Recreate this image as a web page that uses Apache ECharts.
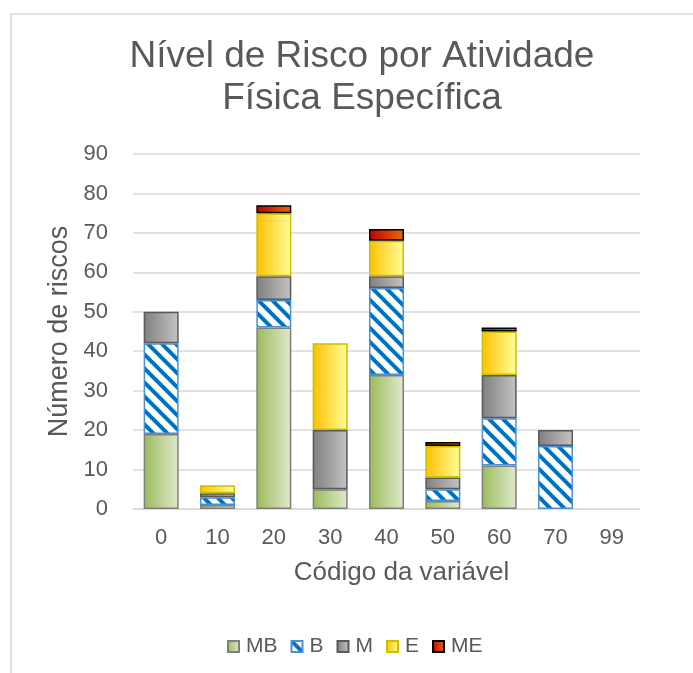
<!DOCTYPE html>
<html>
<head>
<meta charset="utf-8">
<script src="https://cdn.jsdelivr.net/npm/echarts@6/dist/echarts.min.js"></script>
<style>
  html, body { margin: 0; padding: 0; background: #fff; }
  #main { width: 693px; height: 673px; }
</style>
</head>
<body>
<div id="main"></div>
<script>
// dados
var categorias = ['0', '10', '20', '30', '40', '50', '60', '70', '99'];
var serieMB = [19, 1, 46, 5, 34, 2, 11, 0, 0];
var serieB  = [23, 2, 7, 0, 22, 3, 12, 16, 0];
var serieM  = [8, 1, 6, 15, 3, 3, 11, 4, 0];
var serieE  = [0, 2, 16, 22, 9, 8, 11, 0, 0];
var serieME = [0, 0, 2, 0, 3, 1, 1, 0, 0];
var ticksY = [0, 10, 20, 30, 40, 50, 60, 70, 80, 90];

var txt = '#595959';
var fonte = '"Liberation Sans", Arial, sans-serif';

// padrão listrado para a série B
function listras() {
    var s = 14;
    var c = document.createElement('canvas');
    c.width = s; c.height = s;
    var ctx = c.getContext('2d');
    ctx.fillStyle = '#fff';
    ctx.fillRect(0, 0, s, s);
    ctx.strokeStyle = '#0070c0';
    ctx.lineWidth = 4;
    ctx.beginPath();
    ctx.moveTo(-s, -s); ctx.lineTo(2 * s, 2 * s);
    ctx.moveTo(-s, 0); ctx.lineTo(s, 2 * s);
    ctx.moveTo(0, -s); ctx.lineTo(2 * s, s);
    ctx.stroke();
    return c;
}

function grad(a, b) {
    return new echarts.graphic.LinearGradient(0, 0, 1, 0, [
        {offset: 0, color: a}, {offset: 1, color: b}
    ]);
}

function zeroNull(arr) {
    return arr.map(function (v) { return v === 0 ? null : v; });
}

var myChart = echarts.init(document.getElementById('main'));

var option = {
    backgroundColor: '#fff',
    animation: false,
    graphic: [{
        type: 'rect',
        shape: {x: 11, y: 14, width: 800, height: 800},
        style: {fill: 'none', stroke: '#d9d9d9', lineWidth: 1.5},
        silent: true
    }],
    title: {
        text: 'Nível de Risco por Atividade\nFísica Específica',
        left: 357,
        top: 31,
        textAlign: 'center',
        textStyle: {
            fontFamily: fonte, fontSize: 37, fontWeight: 'normal',
            color: txt, lineHeight: 42
        }
    },
    legend: {
        left: 222,
        top: 631,
        itemWidth: 11,
        itemHeight: 11,
        itemGap: 13,
        icon: 'rect',
        textStyle: {fontFamily: fonte, fontSize: 21, color: txt, padding: [0, 0, 0, 2]},
        data: ['MB', 'B', 'M', 'E', 'ME']
    },
    grid: {left: 133, right: 53, top: 154, bottom: 164},
    xAxis: {
        type: 'category',
        data: categorias,
        name: 'Código da variável',
        nameLocation: 'middle',
        nameGap: 51,
        nameTextStyle: {fontFamily: fonte, fontSize: 26, color: txt, padding: [0, 0, 0, 30]},
        axisLine: {lineStyle: {color: '#d9d9d9', width: 1.5}},
        axisTick: {show: false},
        axisLabel: {fontFamily: fonte, fontSize: 22, color: txt, margin: 18}
    },
    yAxis: {
        type: 'value',
        min: ticksY[0],
        max: ticksY[ticksY.length - 1],
        interval: 10,
        name: 'Número de riscos',
        nameLocation: 'middle',
        nameGap: 58,
        nameTextStyle: {fontFamily: fonte, fontSize: 27, color: txt},
        axisLine: {show: false},
        axisTick: {show: false},
        axisLabel: {fontFamily: fonte, fontSize: 22, color: txt, margin: 25},
        splitLine: {lineStyle: {color: '#d9d9d9', width: 1.5}}
    },
    series: [{
        name: 'MB', type: 'bar', stack: 'r', barWidth: 35,
        data: zeroNull(serieMB),
        itemStyle: {color: grad('#9bbb59', '#e0e9cf'), borderColor: '#7f7f7f', borderWidth: 1.5}
    }, {
        name: 'B', type: 'bar', stack: 'r', barWidth: 35,
        data: zeroNull(serieB),
        itemStyle: {color: {image: listras(), repeat: 'repeat'}, borderColor: '#4a90d9', borderWidth: 1.5}
    }, {
        name: 'M', type: 'bar', stack: 'r', barWidth: 35,
        data: zeroNull(serieM),
        itemStyle: {color: grad('#7f7f7f', '#c4c4c4'), borderColor: '#595959', borderWidth: 1.5}
    }, {
        name: 'E', type: 'bar', stack: 'r', barWidth: 35,
        data: zeroNull(serieE),
        itemStyle: {color: grad('#ffc000', '#ffff99'), borderColor: '#c8c000', borderWidth: 1.5}
    }, {
        name: 'ME', type: 'bar', stack: 'r', barWidth: 35,
        data: zeroNull(serieME),
        itemStyle: {color: grad('#c00000', '#e46c0a'), borderColor: '#000', borderWidth: 1.5}
    }]
};

myChart.setOption(option);
</script>
</body>
</html>
